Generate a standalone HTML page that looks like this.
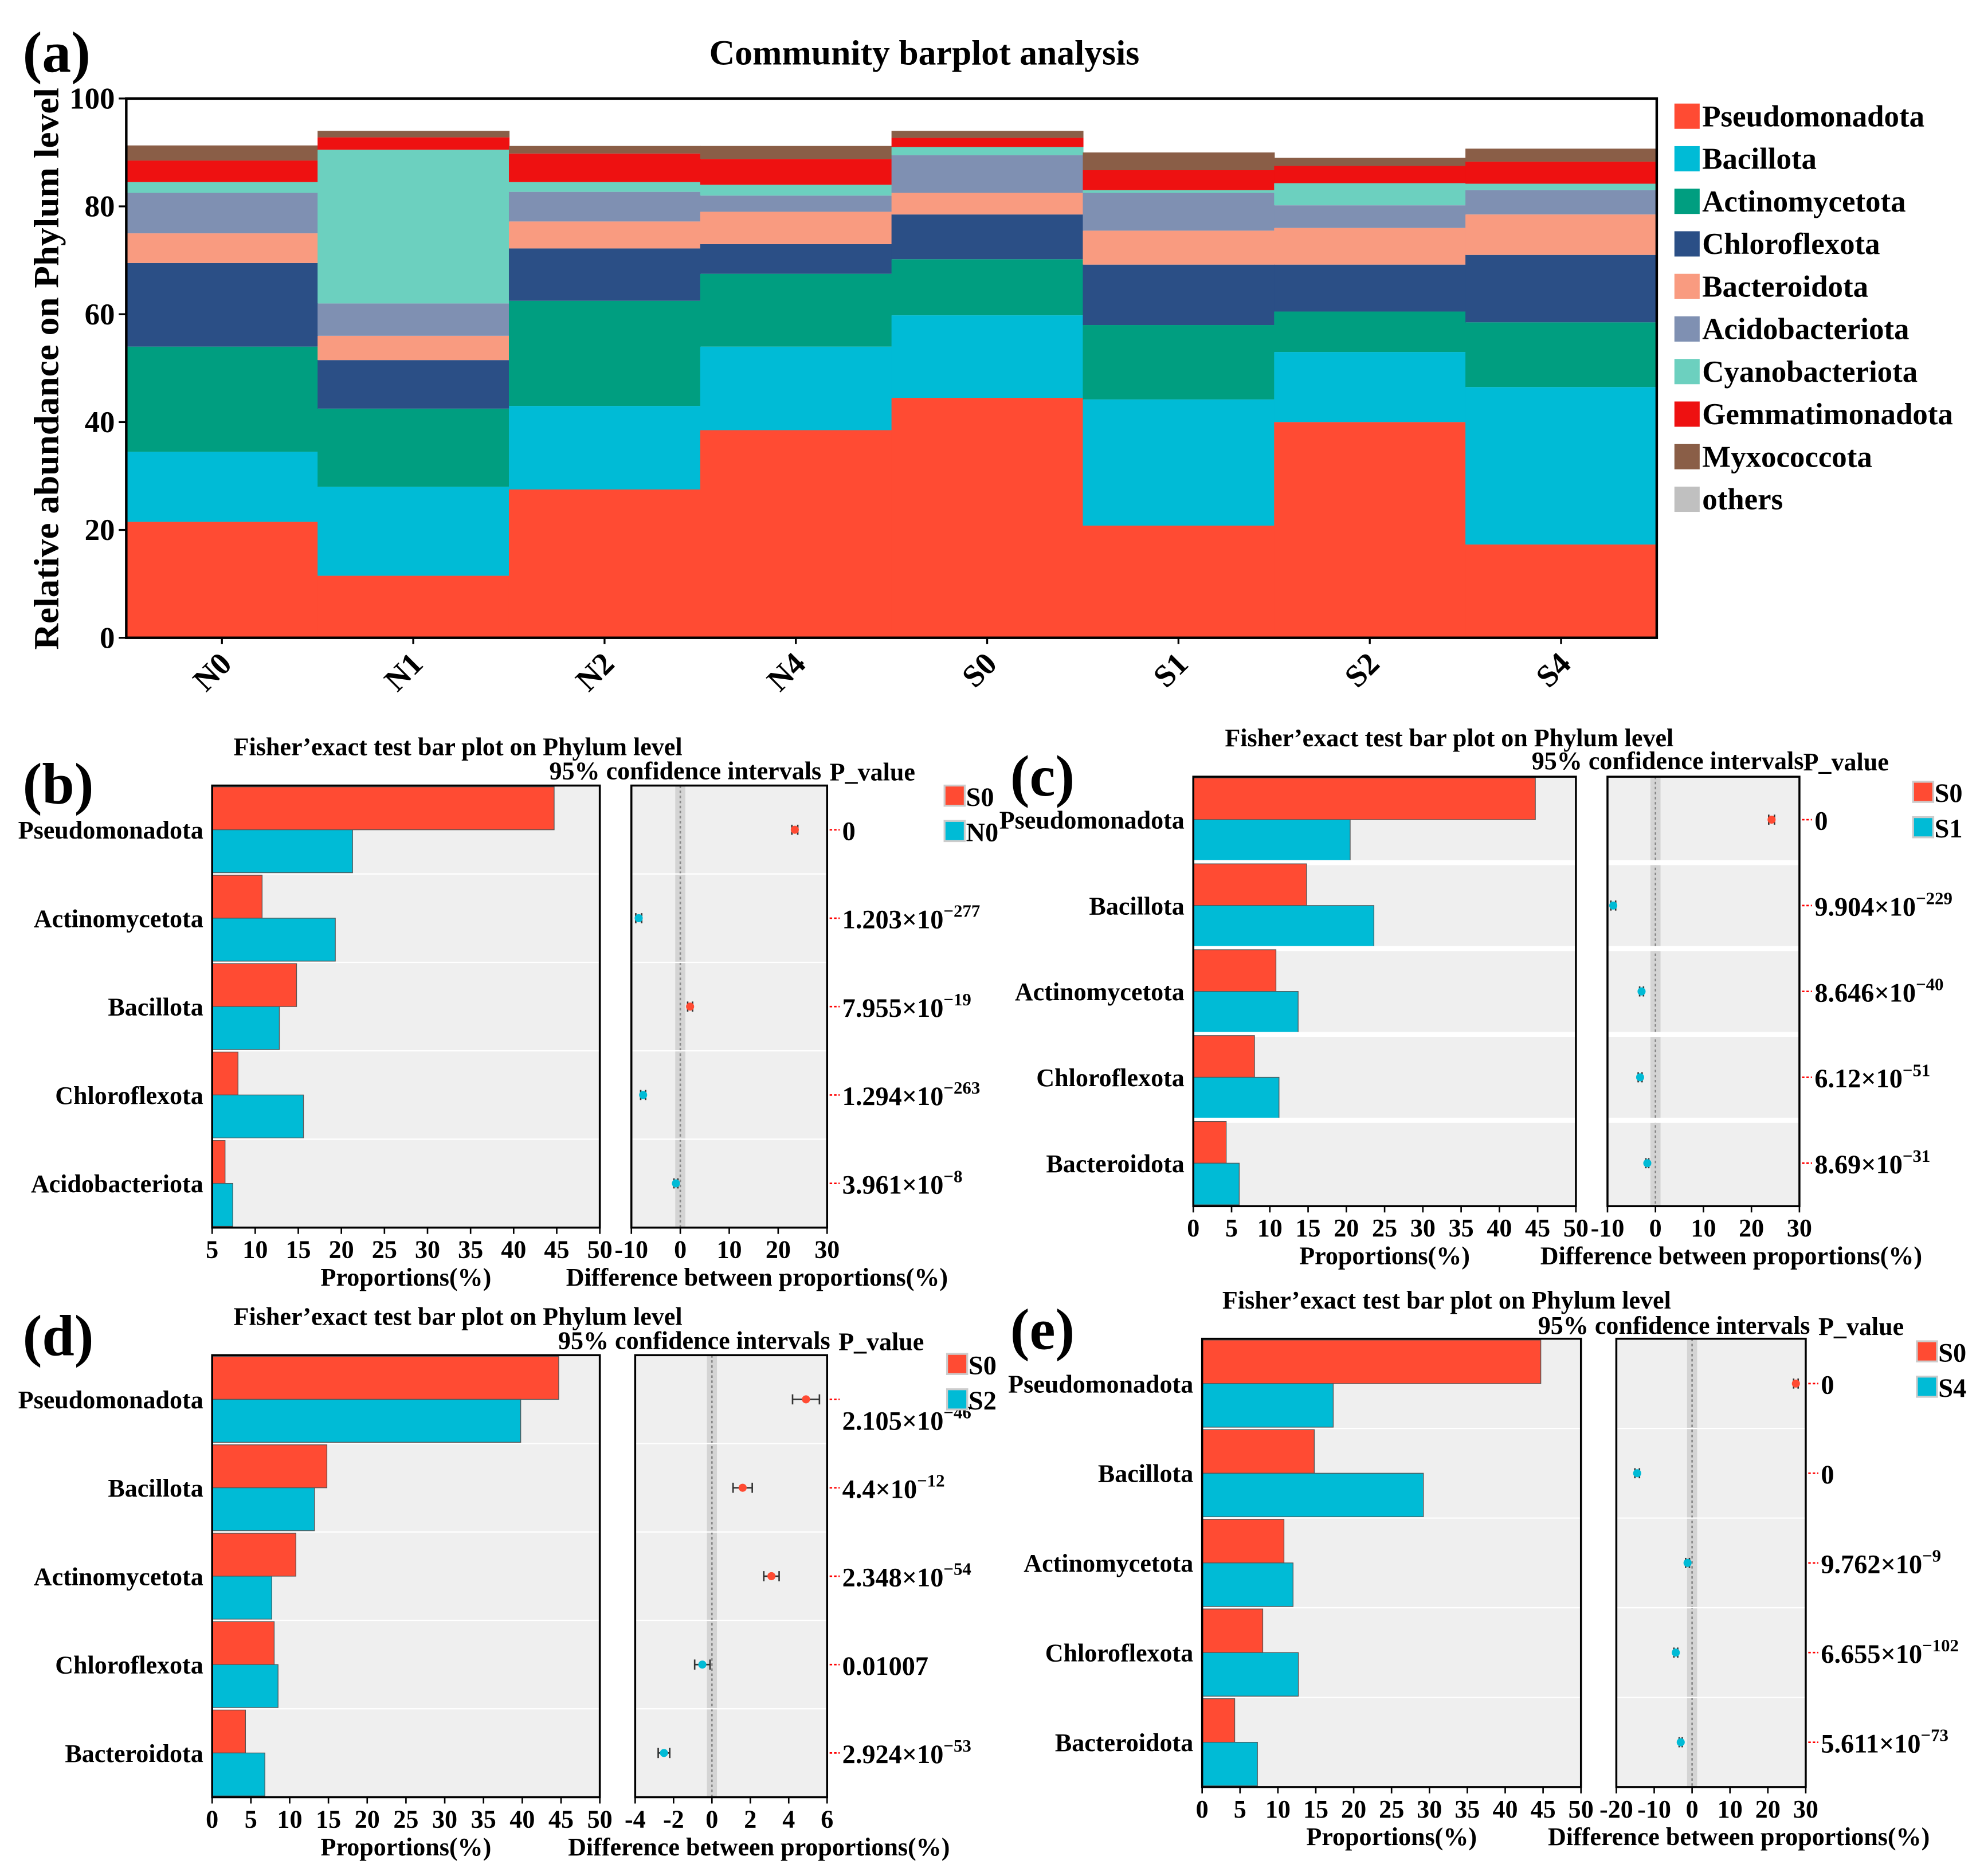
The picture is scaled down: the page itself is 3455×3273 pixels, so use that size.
<!DOCTYPE html>
<html><head><meta charset="utf-8"><style>
html,body{margin:0;padding:0;background:#fff}
svg{display:block}
text{font-family:"Liberation Serif",serif;font-weight:bold;fill:#000}
</style></head><body>
<svg id="fig" xmlns="http://www.w3.org/2000/svg" width="3455" height="3273" viewBox="0 0 1568 1485.4" preserveAspectRatio="none">
<g id="pa"></g>
<g id="pp"></g>
</svg>
<script>
// ---- Panel (a) data ----
const samples=["N0","N1","N2","N4","S0","S1","S2","S4"];
const phyla=["Pseudomonadota","Bacillota","Actinomycetota","Chloroflexota","Bacteroidota","Acidobacteriota","Cyanobacteriota","Gemmatimonadota","Myxococcota","others"];
const pseudomonadota=[21.5,11.5,27.5,38.5,44.5,20.8,40,17.3];
const bacillota=[13,16.5,15.5,15.5,15.3,23.4,13,29.2];
const actinomycetota=[19.5,14.5,19.5,13.5,10.4,13.8,7.5,12];
const chloroflexota=[15.5,9,9.7,5.5,8.3,11.2,8.7,12.5];
const bacteroidota=[5.5,4.5,5,6,4,6.3,6.8,7.5];
const acidobacteriota=[7.5,6,5.5,3,7,7,4.2,4.5];
const cyanobacteriota=[2,28.5,1.8,2,1.5,0.5,4.1,1.2];
const gemmatimonadota=[4,2.3,5.3,4.8,1.7,3.7,3.2,4.1];
const myxococcota=[2.8,1.2,1.4,2.4,1.3,3.3,1.5,2.4];
const others=[0,0,0,0,0,0,0,0];
const aTicks=[0,20,40,60,80,100];

// ---- Fisher panels data ----
const bCats=["Pseudomonadota","Actinomycetota","Bacillota","Chloroflexota","Acidobacteriota"];
const bA=[44.7,10.8,14.8,8,6.5], bB=[21.3,19.3,12.8,15.6,7.4];
const bDiff=[23.4,-8.5,2,-7.6,-0.9], bErr=[0.6,0.6,0.5,0.5,0.4];
const bP=[["0",""],["1.203","−277"],["7.955","−19"],["1.294","−263"],["3.961","−8"]];
const bLeftTicks=[5,10,15,20,25,30,35,40,45,50], bRightTicks=[-10,0,10,20,30];

const cCats=["Pseudomonadota","Bacillota","Actinomycetota","Chloroflexota","Bacteroidota"];
const cA=[44.7,14.8,10.8,8,4.3], cB=[20.5,23.6,13.7,11.2,6];
const cDiff=[24.2,-8.8,-2.9,-3.2,-1.7], cErr=[0.6,0.5,0.4,0.4,0.3];
const cP=[["0",""],["9.904","−229"],["8.646","−40"],["6.12","−51"],["8.69","−31"]];
const cLeftTicks=[0,5,10,15,20,25,30,35,40,45,50], cRightTicks=[-10,0,10,20,30];

const dCats=["Pseudomonadota","Bacillota","Actinomycetota","Chloroflexota","Bacteroidota"];
const dA=[44.7,14.8,10.8,8,4.3], dB=[39.8,13.2,7.7,8.5,6.8];
const dDiff=[4.9,1.6,3.1,-0.5,-2.5], dErr=[0.7,0.5,0.4,0.4,0.3];
const dP=[["2.105","−46"],["4.4","−12"],["2.348","−54"],["0.01007",""],["2.924","−53"]];
const dLeftTicks=[0,5,10,15,20,25,30,35,40,45,50], dRightTicks=[-4,-2,0,2,4,6];

const eCats=["Pseudomonadota","Bacillota","Actinomycetota","Chloroflexota","Bacteroidota"];
const eA=[44.7,14.8,10.8,8,4.3], eB=[17.3,29.2,12,12.7,7.3];
const eDiff=[27.4,-14.5,-1.2,-4.3,-3], eErr=[0.6,0.6,0.5,0.5,0.4];
const eP=[["0",""],["0",""],["9.762","−9"],["6.655","−102"],["5.611","−73"]];
const eLeftTicks=[0,5,10,15,20,25,30,35,40,45,50], eRightTicks=[-20,-10,0,10,20,30];

const NS="http://www.w3.org/2000/svg";
function mk(parent,tag,attrs,txt){const e=document.createElementNS(NS,tag);for(const k in attrs)e.setAttribute(k,attrs[k]);if(txt!==undefined)e.textContent=txt;parent.appendChild(e);return e;}
const colors=["#FF4B33","#00BBD6","#009E80","#2B4F86","#F99B80","#7F90B2","#6CD0BF","#EE1111","#8A5E47","#C0C0C0"];
const RED="#FF4B33", BLUE="#00BBD6";

// ---- Panel (a) ----
(function(){
const g=document.getElementById('pa');
const x0=100,x1=1312,y0=505,y1=78;
const ys=v=>y0-(v/100)*(y0-y1);
const bw=(x1-x0)/samples.length;
const xs=i=>x0+i*bw;
const series=[pseudomonadota,bacillota,actinomycetota,chloroflexota,bacteroidota,acidobacteriota,cyanobacteriota,gemmatimonadota,myxococcota,others];
let t=mk(g,'text',{x:18,y:57,'font-size':46});t.textContent='(a)';


t=mk(g,'text',{x:732,y:51,'font-size':28,'text-anchor':'middle'},'Community barplot analysis');


samples.forEach((s,i)=>{let cum=0;series.forEach((ser,k)=>{const v=ser[i];if(v<=0){return;}
 const r=mk(g,'rect',{x:xs(i),y:ys(cum+v),width:bw+0.5,height:ys(cum)-ys(cum+v),fill:colors[k]});
 
 
 cum+=v;});
 const lx=xs(i)+bw/2;
 const lt=mk(g,'text',{x:0,y:0,'font-size':25,'text-anchor':'end',transform:`translate(${lx+9},${y0+22}) rotate(-45)`},s);
 
 
 mk(g,'line',{x1:lx,x2:lx,y1:y0,y2:y0+5,stroke:'#000','stroke-width':1.5});
});
mk(g,'rect',{x:x0,y:y1,width:x1-x0,height:y0-y1,fill:'none',stroke:'#000','stroke-width':2});
aTicks.forEach(v=>{mk(g,'line',{x1:x0-6,x2:x0,y1:ys(v),y2:ys(v),stroke:'#000','stroke-width':1.5});
 const tt=mk(g,'text',{x:x0-9,y:ys(v)+8,'font-size':24,'text-anchor':'end'},String(v));
 
 });
t=mk(g,'text',{x:0,y:0,'font-size':28,'text-anchor':'middle',transform:`translate(46,292) rotate(-90)`,textLength:445,lengthAdjust:'spacingAndGlyphs'},'Relative abundance on Phylum level');


phyla.forEach((p,k)=>{const ly=82+k*33.7;
 const r=mk(g,'rect',{x:1326,y:ly,width:20,height:20,fill:colors[k]});
 
 
 const lt=mk(g,'text',{x:1348,y:ly+18,'font-size':24},p);
 
 });
})();

// ---- Fisher panels ----
function panel(cfg,cats,A,B,diff,err,pv,lt,rt){
const g=mk(document.getElementById('pp'),'g',{});


let t=mk(g,'text',{x:cfg.lx,y:cfg.ly,'font-size':46},'('+cfg.id+')');


t=mk(g,'text',{x:cfg.tx,y:cfg.ty,'font-size':20},'Fisher’exact test bar plot on Phylum level');


t=mk(g,'text',{x:cfg.cix,y:cfg.ciy,'font-size':20},'95% confidence intervals');


t=mk(g,'text',{x:cfg.px,y:cfg.ciy+1,'font-size':20},'P_value');


const n=cats.length,rh=(cfg.y1-cfg.y0)/n;
const lmin=lt[0],lmax=lt[lt.length-1];
const xl=v=>cfg.L0+(v-lmin)/(lmax-lmin)*(cfg.L1-cfg.L0);
const rmin=rt[0],rmax=rt[rt.length-1];
const xr=v=>cfg.R0+(v-rmin)/(rmax-rmin)*(cfg.R1-cfg.R0);
mk(g,'rect',{x:cfg.L0,y:cfg.y0,width:cfg.L1-cfg.L0,height:cfg.y1-cfg.y0,fill:'#EFEFEF'});
mk(g,'rect',{x:cfg.R0,y:cfg.y0,width:cfg.R1-cfg.R0,height:cfg.y1-cfg.y0,fill:'#EFEFEF'});
mk(g,'rect',{x:xr(0)-4,y:cfg.y0,width:8,height:cfg.y1-cfg.y0,fill:'#D4D4D4'});
mk(g,'line',{x1:xr(0),x2:xr(0),y1:cfg.y0,y2:cfg.y1,stroke:'#888','stroke-width':1.2,'stroke-dasharray':'2,2'});
cats.forEach((c,i)=>{const ry=cfg.y0+i*rh;
 if(i>0){mk(g,'line',{x1:cfg.L0,x2:cfg.L1,y1:ry,y2:ry,stroke:'#fff','stroke-width':cfg.sep});
  mk(g,'line',{x1:cfg.R0,x2:cfg.R1,y1:ry,y2:ry,stroke:'#fff','stroke-width':cfg.sep});}
 let r=mk(g,'rect',{x:cfg.L0,y:ry+1,width:Math.max(0,xl(A[i])-cfg.L0),height:rh/2-1,fill:RED,stroke:'#555','stroke-width':0.6});
 
 
 r=mk(g,'rect',{x:cfg.L0,y:ry+rh/2,width:Math.max(0,xl(B[i])-cfg.L0),height:rh/2-1,fill:BLUE,stroke:'#555','stroke-width':0.6});
 
 
 const cy=ry+rh/2;
 const lb=mk(g,'text',{x:cfg.L0-7,y:cy+7,'font-size':20,'text-anchor':'end'},c);
 
 
 const col=diff[i]>=0?RED:BLUE;
 mk(g,'line',{x1:xr(diff[i]-err[i]),x2:xr(diff[i]+err[i]),y1:cy,y2:cy,stroke:'#333','stroke-width':1.2});
 mk(g,'line',{x1:xr(diff[i]-err[i]),x2:xr(diff[i]-err[i]),y1:cy-4,y2:cy+4,stroke:'#333','stroke-width':1.2});
 mk(g,'line',{x1:xr(diff[i]+err[i]),x2:xr(diff[i]+err[i]),y1:cy-4,y2:cy+4,stroke:'#333','stroke-width':1.2});
 const pt=mk(g,'circle',{cx:xr(diff[i]),cy:cy,r:3.2,fill:col});
 
 
 mk(g,'line',{x1:cfg.R1+2,x2:cfg.R1+10,y1:cy,y2:cy,stroke:'#f00','stroke-width':1.2,'stroke-dasharray':'2,1.5'});
 const py=cy+8+(cfg.id==='d'&&i===0?16:0);
 const ptx=mk(g,'text',{x:cfg.R1+12,y:py,'font-size':21});
 
 
 ptx.textContent=pv[i][0]+(pv[i][1]?'×10':'');
 if(pv[i][1]){mk(ptx,'tspan',{'font-size':14,dy:-9},pv[i][1]);}
});
mk(g,'rect',{x:cfg.L0,y:cfg.y0,width:cfg.L1-cfg.L0,height:cfg.y1-cfg.y0,fill:'none',stroke:'#000','stroke-width':1.6});
mk(g,'rect',{x:cfg.R0,y:cfg.y0,width:cfg.R1-cfg.R0,height:cfg.y1-cfg.y0,fill:'none',stroke:'#000','stroke-width':1.6});
lt.forEach(v=>{mk(g,'line',{x1:xl(v),x2:xl(v),y1:cfg.y1,y2:cfg.y1+5,stroke:'#000','stroke-width':1.2});
 const tt=mk(g,'text',{x:xl(v),y:cfg.y1+24,'font-size':20,'text-anchor':'middle'},String(v));
 
 });
rt.forEach(v=>{mk(g,'line',{x1:xr(v),x2:xr(v),y1:cfg.y1,y2:cfg.y1+5,stroke:'#000','stroke-width':1.2});
 const tt=mk(g,'text',{x:xr(v),y:cfg.y1+24,'font-size':20,'text-anchor':'middle'},String(v));
 
 });
t=mk(g,'text',{x:(cfg.L0+cfg.L1)/2,y:cfg.y1+46,'font-size':20,'text-anchor':'middle'},'Proportions(%)');


t=mk(g,'text',{x:(cfg.R0+cfg.R1)/2+22,y:cfg.y1+46,'font-size':20,'text-anchor':'middle'},'Difference between proportions(%)');


[[cfg.sa,RED],[cfg.sb,BLUE]].forEach((s,k)=>{const yy=cfg.legy+k*28;
 mk(g,'rect',{x:cfg.legx,y:yy-8,width:16,height:16,fill:s[1],stroke:'#ccc','stroke-width':1.5});
 const l=mk(g,'text',{x:cfg.legx+17,y:yy+8,'font-size':21},s[0]);
 
 });
}
panel({id:'b',lx:18,ly:636,tx:185,ty:598,cix:435,ciy:617,px:657,L0:168,L1:475,R0:500,R1:655,y0:622,y1:972,sep:1,sa:'S0',sb:'N0',legx:748,legy:630},bCats,bA,bB,bDiff,bErr,bP,bLeftTicks,bRightTicks);
panel({id:'c',lx:800,ly:630,tx:970,ty:591,cix:1213,ciy:609,px:1428,L0:945,L1:1248,R0:1273,R1:1425,y0:615,y1:955,sep:4,sa:'S0',sb:'S1',legx:1515,legy:627},cCats,cA,cB,cDiff,cErr,cP,cLeftTicks,cRightTicks);
panel({id:'d',lx:18,ly:1073,tx:185,ty:1049,cix:442,ciy:1068,px:664,L0:168,L1:475,R0:503,R1:655,y0:1073,y1:1423,sep:1,sa:'S0',sb:'S2',legx:750,legy:1080},dCats,dA,dB,dDiff,dErr,dP,dLeftTicks,dRightTicks);
panel({id:'e',lx:800,ly:1068,tx:968,ty:1036,cix:1218,ciy:1056,px:1440,L0:952,L1:1252,R0:1280,R1:1430,y0:1060,y1:1415,sep:1,sa:'S0',sb:'S4',legx:1518,legy:1070},eCats,eA,eB,eDiff,eErr,eP,eLeftTicks,eRightTicks);
</script>
</body></html>
